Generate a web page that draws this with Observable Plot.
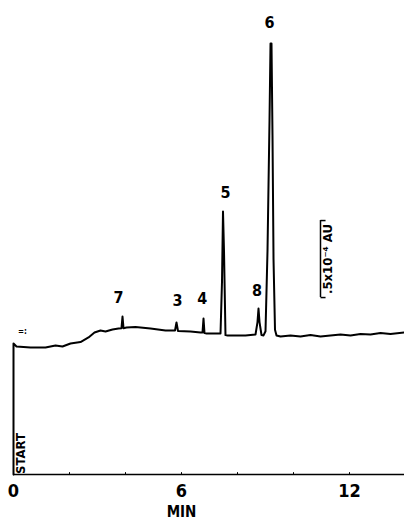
<!DOCTYPE html>
<html>
<head>
<meta charset="utf-8">
<script src="https://cdn.jsdelivr.net/npm/d3@7"></script>
<script src="https://cdn.jsdelivr.net/npm/@observablehq/plot@0.6"></script>
<style>
  html, body { margin: 0; padding: 0; background: #fff; }
</style>
</head>
<body>
<div id="chart"></div>
<script>
// Retention time (min) and absorbance (units of 1e-4 AU)
const timeMin = [
  0, 0, 0.107, 0.607, 1.143, 1.5, 1.75, 2.036, 2.393, 2.679, 2.893, 3.107, 3.286, 3.536,
  3.75, 3.857, 3.893, 3.929, 4.036, 4.357, 4.893, 5.429,
  5.768, 5.821, 5.875, 6.321, 6.679,
  6.75, 6.786, 6.821, 6.893, 7.321,
  7.393, 7.446, 7.482, 7.518, 7.571, 7.643, 8.286, 8.643,
  8.714, 8.75, 8.786, 8.857, 8.929,
  9.0, 9.071, 9.143, 9.179, 9.214, 9.25, 9.286, 9.339, 9.393,
  9.536, 9.893, 10.25, 10.607, 10.964, 11.321, 11.679, 12.036, 12.393, 12.75, 13.107, 13.464, 13.964
];
const absorb = [
  0, 0.851, 0.831, 0.825, 0.825, 0.838, 0.831, 0.851, 0.860, 0.890, 0.922, 0.935, 0.929, 0.942,
  0.948, 0.950, 1.026, 0.950, 0.955, 0.958, 0.948, 0.935,
  0.935, 0.987, 0.932, 0.929, 0.922,
  0.922, 1.013, 0.918, 0.916, 0.916,
  0.916, 1.250, 1.708, 1.450, 0.905, 0.903, 0.903, 0.909,
  0.990, 1.078, 0.990, 0.906, 0.903,
  0.930, 1.450, 2.300, 2.799, 2.799, 2.200, 1.400, 0.940, 0.903,
  0.896, 0.903, 0.896, 0.906, 0.896, 0.903, 0.909, 0.903, 0.912, 0.909, 0.919, 0.912, 0.922
];

// Peak labels
const peakNames = ["7", "3", "4", "5", "8", "6"];
const peakLabelTime = [3.75, 5.857, 6.74, 7.571, 8.70, 9.143];
const peakLabelAbs = [1.149, 1.130, 1.143, 1.831, 1.195, 2.935];

// Axis ticks
const minorTicks = [0, 2, 4, 6, 8, 10, 12];
const labeledTicks = [0, 6, 12];

// Scale bar (0.5 x 1e-4 AU)
const barTime = [10.964];
const barLow = [1.149];
const barHigh = [1.649];
const barText = [".5x10\u207B\u2074 AU"];

const trace = timeMin.map((t, i) => ({t, a: absorb[i]}));
const peaks = peakNames.map((n, i) => ({n, t: peakLabelTime[i], a: peakLabelAbs[i]}));
const bar = barTime.map((t, i) => ({t, lo: barLow[i], hi: barHigh[i], label: barText[i]}));

const font = "'Liberation Sans Narrow', 'DejaVu Sans Condensed', 'Roboto Condensed', sans-serif";

const chart = Plot.plot({
  width: 404,
  height: 523,
  marginLeft: 13,
  marginRight: 0,
  marginTop: 20,
  marginBottom: 49,
  style: {fontFamily: font, background: "#fff", color: "#000"},
  x: {domain: [0, 13.964], axis: null},
  y: {domain: [0, 2.948], axis: null},
  marks: [
    Plot.ruleY([0], {stroke: "#000", strokeWidth: 1.6}),
    Plot.ruleX(minorTicks, {x: d => d, y1: 0, y2: 0.012, stroke: "#000", strokeWidth: 1}),
    Plot.axisX({ticks: labeledTicks, tickSize: 0, tickPadding: 10, fontSize: 18, fontWeight: "bold", label: null, fill: "#000"}),
    Plot.text(["MIN"], {x: 6, y: 0, dy: 38, fontSize: 15, fontWeight: "bold", fill: "#000"}),
    Plot.line(trace, {x: "t", y: "a", stroke: "#000", strokeWidth: 2, strokeLinejoin: "round", curve: "linear"}),
    Plot.text(peaks, {x: "t", y: "a", text: "n", fontSize: 16, fontWeight: "bold", fill: "#000"}),
    Plot.ruleX(bar, {x: "t", y1: "lo", y2: "hi", stroke: "#000", strokeWidth: 1.5}),
    Plot.link(bar, {x1: "t", x2: d => d.t + 0.18, y1: "hi", y2: "hi", stroke: "#000", strokeWidth: 1.5}),
    Plot.link(bar, {x1: "t", x2: d => d.t + 0.18, y1: "lo", y2: "lo", stroke: "#000", strokeWidth: 1.5}),
    Plot.text(bar, {x: d => d.t + 0.27, y: d => (d.lo + d.hi) / 2, text: "label", rotate: -90, fontSize: 13, fontWeight: "bold", fill: "#000"}),
    Plot.text(["START"], {x: 0, y: 0, dx: 7, dy: -21, rotate: -90, fontSize: 13, fontWeight: "bold", fill: "#000"}),
    Plot.text(["=:"], {x: 0, y: 0.851, dx: 9, dy: -12, fontSize: 8, fontWeight: "bold", fill: "#000"})
  ]
});
document.getElementById("chart").appendChild(chart);
</script>
</body>
</html>
